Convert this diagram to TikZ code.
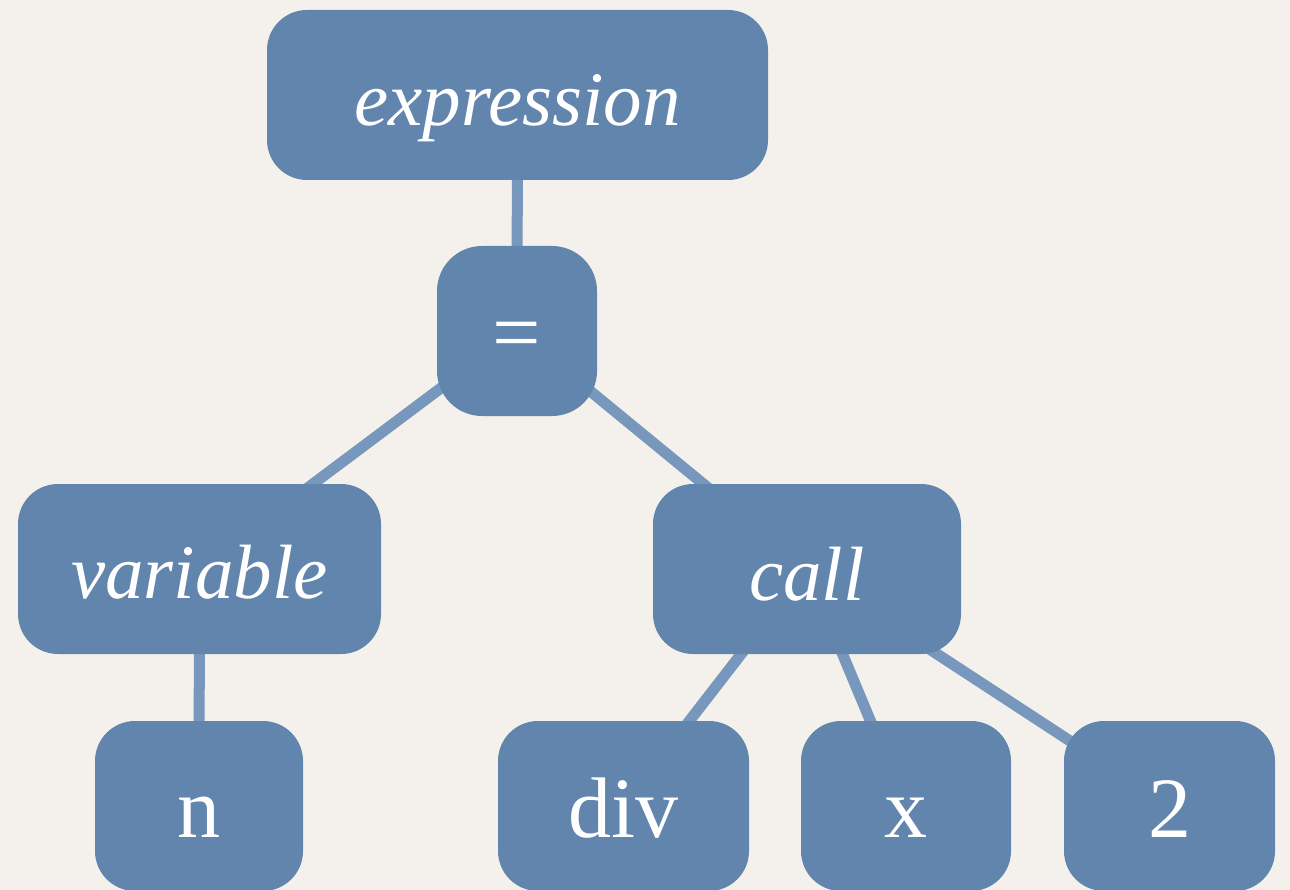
\documentclass[tikz,border=0pt]{standalone}
\usepackage{fontspec}
\setmainfont{Liberation Serif}
\pgfdeclarelayer{paper}
\pgfdeclarelayer{edges}
\pgfsetlayers{paper,edges,main}
\definecolor{paper}{HTML}{F4F1EC}
\definecolor{boxfill}{HTML}{6285AD}
\definecolor{edgeblue}{HTML}{7897BC}
\tikzset{
  treebox/.style={fill=boxfill, draw=none, rounded corners=40pt, inner sep=0pt},
  boxlabel/.style={anchor=base, text=white, inner sep=0pt,
    font=\fontsize{86}{100}\selectfont},
  slanted/.style={boxlabel, font=\fontsize{77}{92}\selectfont\itshape},
  edge/.style={draw=edgeblue, line width=11pt},
}
\begin{document}
\begin{tikzpicture}[x=1pt, y=-1pt]
  \begin{pgfonlayer}{paper}
    \fill[paper] (0,0) rectangle (1290,890);
  \end{pgfonlayer}
  \useasboundingbox (0,0) rectangle (1290,890);

  % boxes
  \node[treebox, minimum width=501pt, minimum height=170pt] (expr) at (517.5,95) {};
  \node[treebox, minimum width=160pt, minimum height=170pt, rounded corners=45pt] (eq) at (517,331) {};
  \node[treebox, minimum width=363pt, minimum height=170pt] (var) at (199.5,569) {};
  \node[treebox, minimum width=308pt, minimum height=170pt] (call) at (807,569) {};
  \node[treebox, minimum width=208pt, minimum height=170pt] (n) at (199,806) {};
  \node[treebox, minimum width=251pt, minimum height=170pt] (div) at (623.5,806) {};
  \node[treebox, minimum width=210pt, minimum height=170pt] (x) at (906,806) {};
  \node[treebox, minimum width=211pt, minimum height=170pt] (two) at (1169.5,806) {};

  % labels
  \node[slanted] (expr-t) at ([yshift=-31pt]expr.center) {expression};
  \node[boxlabel] (eq-t) at ([yshift=-31pt]eq.center) {=};
  \node[slanted] (var-t) at ([yshift=-29pt]var.center) {variable};
  \node[slanted] (call-t) at ([yshift=-31pt]call.center) {call};
  \node[boxlabel] (n-t) at ([yshift=-31pt]n.center) {n};
  \node[boxlabel] (div-t) at ([yshift=-31pt]div.center) {div};
  \node[boxlabel] (x-t) at ([yshift=-31pt]x.center) {x};
  \node[boxlabel] (two-t) at ([yshift=-31pt]two.center) {2};

  % connectors, centre to centre behind the boxes
  \begin{pgfonlayer}{edges}
    \draw[edge] (expr.center) -- (eq.center);
    \draw[edge] (eq.center) -- (var.center);
    \draw[edge] (eq.center) -- (call.center);
    \draw[edge] (var.center) -- (n.center);
    \draw[edge] (call.center) -- (div.center);
    \draw[edge] (call.center) -- (x.center);
    \draw[edge] (call.center) -- (two.center);
  \end{pgfonlayer}
\end{tikzpicture}
\end{document}
